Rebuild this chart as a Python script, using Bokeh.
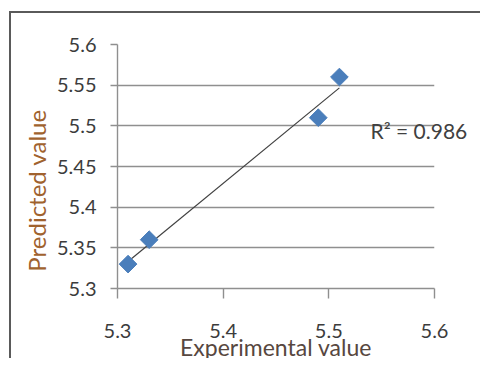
import numpy as np
from bokeh.plotting import figure
from bokeh.models import FixedTicker, LinearAxis, Range1d
from bokeh.embed import file_html
from bokeh.resources import INLINE

# Data
experimental = [5.31, 5.33, 5.49, 5.51]
predicted = [5.33, 5.36, 5.51, 5.56]
x_ticks = [5.3, 5.4, 5.5, 5.6]
x_tick_labels = ["5.3", "5.4", "5.5", "5.6"]
y_ticks = [5.3, 5.35, 5.4, 5.45, 5.5, 5.55, 5.6]
y_tick_labels = ["5.3", "5.35", "5.4", "5.45", "5.5", "5.55", "5.6"]
r2_text = "R\u00b2 = 0.986"
r2_y = 5.494
x_title = "Experimental value"
y_title = "Predicted value"

FONT = "Lato"
TICK_COLOR = "#3c3c3c"
GRID = "#8f8f8f"
BORDER = "#5a5a5a"

chart_bg = ("linear-gradient({c},{c}) 9px 11px / 2px calc(100% - 11px) no-repeat, "
            "linear-gradient({c},{c}) 9px 11px / calc(100% - 9px) 2px no-repeat, "
            "#ffffff").format(c=BORDER)

p = figure(
    width=480, height=358,
    frame_width=317, frame_height=244,
    x_range=Range1d(5.3, 5.6), y_range=Range1d(5.3, 5.6),
    output_backend="svg", toolbar_location=None,
    min_border_left=117, min_border_right=46,
    min_border_top=44, min_border_bottom=70,
    styles={"background": chart_bg, "overflow": "hidden",
            "max-width": "480px", "max-height": "358px"},
)
p.outline_line_color = None
p.background_fill_color = "white"
p.border_fill_color = None

# grids
p.xgrid.visible = False
p.ygrid.ticker = FixedTicker(ticks=y_ticks)
p.ygrid.grid_line_color = GRID
p.ygrid.grid_line_width = 1.4

# x axis
p.xaxis.ticker = FixedTicker(ticks=x_ticks)
p.xaxis.major_label_overrides = {t: l for t, l in zip(x_ticks, x_tick_labels)}
p.xaxis.axis_line_color = GRID
p.xaxis.axis_line_width = 1.4
p.xaxis.major_tick_line_color = GRID
p.xaxis.major_tick_line_width = 1.4
p.xaxis.major_tick_in = 0
p.xaxis.major_tick_out = 10
p.xaxis.minor_tick_line_color = None
p.xaxis.major_label_standoff = 25
p.xaxis.major_label_text_font = FONT
p.xaxis.major_label_text_font_size = "20px"
p.xaxis.major_label_text_color = TICK_COLOR
p.xaxis.axis_label = x_title
p.xaxis.axis_label_standoff = -8
p.xaxis.axis_label_text_font = FONT
p.xaxis.axis_label_text_font_size = "23px"
p.xaxis.axis_label_text_font_style = "normal"
p.xaxis.axis_label_text_color = "#574740"

# y axis
p.yaxis.ticker = FixedTicker(ticks=y_ticks)
p.yaxis.major_label_overrides = {t: l for t, l in zip(y_ticks, y_tick_labels)}
p.yaxis.axis_line_color = GRID
p.yaxis.axis_line_width = 1.4
p.yaxis.major_tick_line_color = GRID
p.yaxis.major_tick_line_width = 1.4
p.yaxis.major_tick_in = 0
p.yaxis.major_tick_out = 7
p.yaxis.minor_tick_line_color = None
p.yaxis.major_label_standoff = 14
p.yaxis.major_label_text_font = FONT
p.yaxis.major_label_text_font_size = "20px"
p.yaxis.major_label_text_color = TICK_COLOR
p.yaxis.axis_label = y_title + "\u2003\u2003\u2002"
p.yaxis.axis_label_standoff = 3
p.yaxis.axis_label_text_font = FONT
p.yaxis.axis_label_text_font_size = "24px"
p.yaxis.axis_label_text_font_style = "normal"
p.yaxis.axis_label_text_color = "#a0622e"

# R^2 annotation as an unlined right axis label
r2_axis = LinearAxis(ticker=FixedTicker(ticks=[r2_y]),
                     major_label_overrides={r2_y: r2_text})
r2_axis.axis_line_color = None
r2_axis.major_tick_line_color = None
r2_axis.minor_tick_line_color = None
r2_axis.major_tick_in = 0
r2_axis.major_tick_out = 0
r2_axis.major_label_standoff = -64
r2_axis.major_label_text_font = FONT
r2_axis.major_label_text_font_size = "21px"
r2_axis.major_label_text_color = "#404040"
p.add_layout(r2_axis, "right")

# trend line (least squares)
xs = np.array(experimental)
ys = np.array(predicted)
m, b = np.polyfit(xs, ys, 1)
lx = [xs.min(), xs.max()]
ly = [m * v + b for v in lx]
p.line(lx, ly, line_color="#404040", line_width=1.2)

# markers
p.scatter(experimental, predicted, marker="square", size=12.5, angle=np.pi / 4,
          fill_color="#4a7ebb", line_color="#4a7ebb")

open("out.html", "w").write(file_html(p, INLINE))
